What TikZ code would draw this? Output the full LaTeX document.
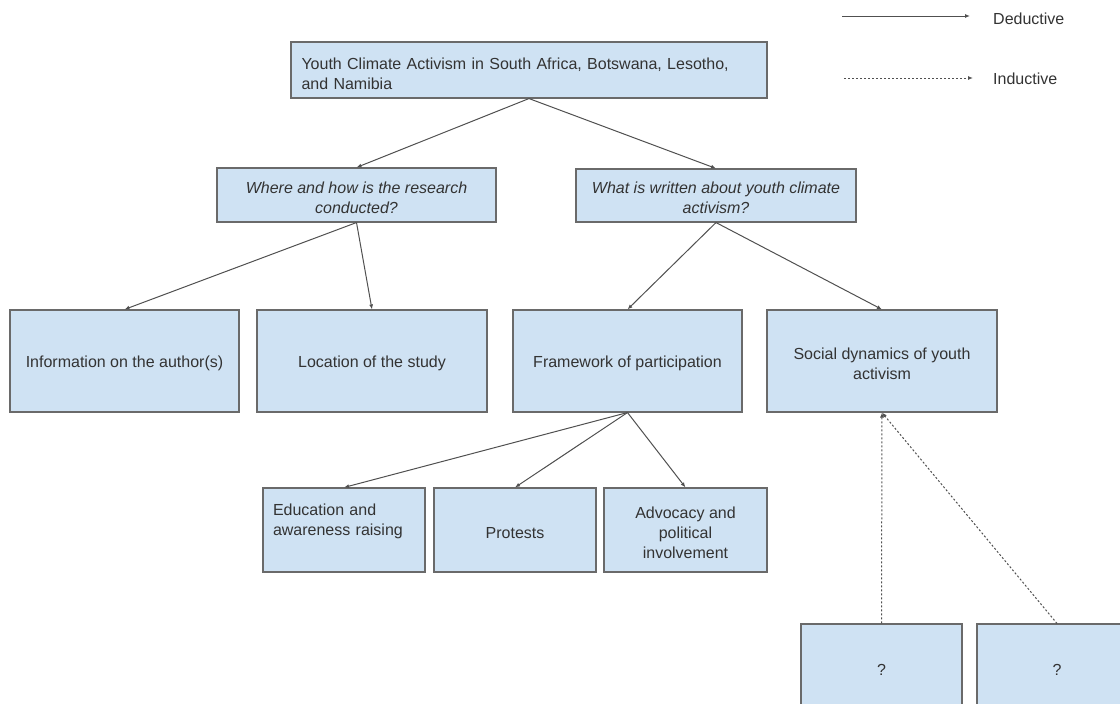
\documentclass[tikz,border=0pt]{standalone}
\usepackage{fontspec}
\setmainfont{Liberation Sans}
\usetikzlibrary{arrows.meta}
\definecolor{boxfill}{HTML}{CFE2F3}
\definecolor{boxline}{HTML}{6A6A6A}
\definecolor{linecol}{HTML}{505050}
\definecolor{txt}{HTML}{333333}
\newcommand\tpad{\rule{0pt}{17pt}}
\newcommand\tpadtop{\rule{0pt}{19pt}}
\begin{document}
\begin{tikzpicture}[x=1pt,y=-1pt,
  box/.style={draw=boxline, fill=boxfill, line width=1.1pt, inner sep=0pt, text=txt,
              font=\fontsize{16}{20}\selectfont, align=center},
  qbox/.style={box, font=\fontsize{16}{20}\selectfont\itshape},
  ded/.style={draw=linecol, line width=1pt, -{Latex[length=5pt,width=4pt]}},
  ind/.style={draw=linecol, line width=1pt, dash pattern=on 2pt off 2pt, -{Latex[length=5pt,width=4pt]}},
  lbl/.style={text=txt, font=\fontsize{16}{20}\selectfont, anchor=west, inner sep=0pt}]
\useasboundingbox (0,0) rectangle (1120,704);
\clip (0,0) rectangle (1120,704);

% legend
\coordinate (d1) at (842,16);
\coordinate (d2) at (970,16);
\draw[ded] (d1) -- (d2);
\node[lbl] (dl) at (993,18.5) {Deductive};
\coordinate (i1) at (844,78);
\coordinate (i2) at (973,78);
\draw[ind] (i1) -- (i2);
\node[lbl] (il) at (993,79) {Inductive};

% boxes
\node[box, minimum height=56, inner xsep=10.5pt, text width=455pt, align=left] (top) at (529,70)
  {\tpadtop Youth Climate Activism in South Africa, Botswana, Lesotho,\\and Namibia};
\node[qbox, minimum width=279, minimum height=54] (where) at (356.5,195)
  {\tpad Where and how is the research\\conducted?};
\node[qbox, minimum width=280, minimum height=53] (what) at (716,195.5)
  {\tpad What is written about youth climate\\activism?};

\node[box, minimum width=229, minimum height=102] (info) at (124.5,361) {\tpad Information on the author(s)};
\node[box, minimum width=230, minimum height=102] (loc) at (372,361) {\tpad Location of the study};
\node[box, minimum width=229, minimum height=102] (frame) at (627.5,361) {\tpad Framework of participation};
\node[box, minimum width=230, minimum height=102] (social) at (882,361) {\tpad Social dynamics of youth\\activism};

\node[box, minimum height=84, inner xsep=10pt, text width=142pt, align=left] (edu) at (344,530)
  {Education and\\awareness raising\\\mbox{}};
\node[box, minimum width=162, minimum height=84] (prot) at (515,530) {\tpad Protests};
\node[box, minimum width=163, minimum height=84] (adv) at (685.5,530) {\tpad Advocacy and\\political\\involvement};

\node[box, minimum width=161, minimum height=86] (q1) at (881.5,667) {\tpad ?};
\node[box, minimum width=160, minimum height=86] (q2) at (1057,667) {\tpad ?};

% deductive connectors
\draw[ded] (top.south) -- (where.north);
\draw[ded] (top.south) -- (what.north);
\draw[ded] (where.south) -- (info.north);
\draw[ded] (where.south) -- (loc.north);
\draw[ded] (what.south) -- (frame.north);
\draw[ded] (what.south) -- (social.north);
\draw[ded] (frame.south) -- (edu.north);
\draw[ded] (frame.south) -- (prot.north);
\draw[ded] (frame.south) -- (adv.north);

% inductive connectors
\draw[ind] (q1.north) -- (social.south);
\draw[ind] (q2.north) -- (social.south);
\end{tikzpicture}
\end{document}
